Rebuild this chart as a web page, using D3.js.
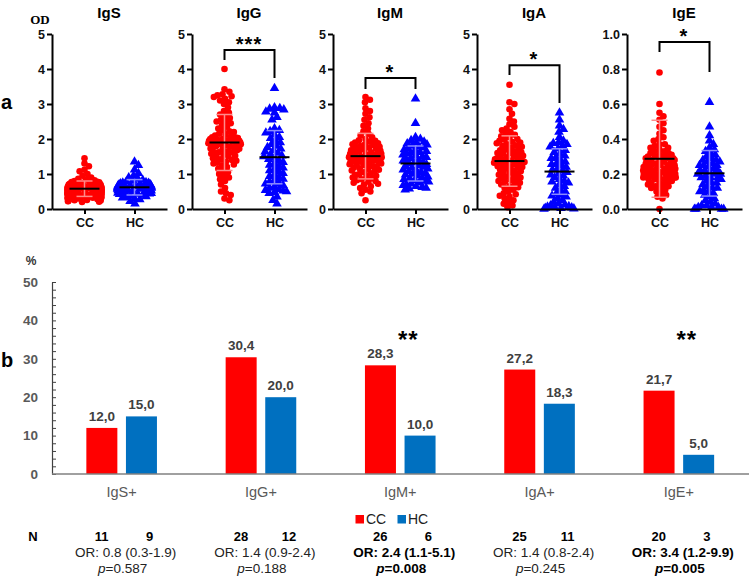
<!DOCTYPE html>
<html><head><meta charset="utf-8">
<script src="https://cdn.jsdelivr.net/npm/d3@7"></script>
<style>body{margin:0;background:#fff}svg{display:block;font-family:"Liberation Sans",Arial,sans-serif}</style>
</head><body><svg id="c" width="749" height="581"></svg>
<script>
// ---------- Panel a data (OD values) ----------
const panels = ["IgS","IgG","IgM","IgA","IgE"];
const groups = ["CC","HC"];
const yTicksA = [0,1,2,3,4,5];
const yTicksE = [0,0.2,0.4,0.6,0.8,1.0];

const igsCC = [1.45,1.3,1.22,1.12,1.08,1.0,0.95,0.9,0.86,0.84,0.82,0.8,0.78,0.77,0.76,0.75,0.74,0.72,0.71,0.7,0.69,0.68,0.67,0.66,0.65,0.65,0.64,0.63,0.62,0.62,0.61,0.6,0.6,0.59,0.58,0.58,0.57,0.56,0.56,0.55,0.55,0.54,0.53,0.53,0.52,0.52,0.51,0.5,0.5,0.49,0.49,0.48,0.48,0.47,0.46,0.46,0.45,0.45,0.44,0.44,0.43,0.42,0.42,0.41,0.4,0.4,0.39,0.38,0.38,0.37,0.36,0.36,0.35,0.34,0.33,0.33,0.32,0.31,0.3,0.3,0.29,0.28,0.27,0.26,0.25,0.24,0.23,0.22,0.21,0.2,0.62,0.58];
const igsHC = [1.35,1.25,1.12,1.02,0.95,0.9,0.86,0.83,0.8,0.78,0.76,0.75,0.74,0.73,0.72,0.71,0.7,0.69,0.68,0.67,0.66,0.66,0.65,0.64,0.64,0.63,0.62,0.62,0.61,0.6,0.6,0.59,0.58,0.58,0.57,0.56,0.55,0.55,0.54,0.53,0.52,0.51,0.5,0.49,0.48,0.47,0.46,0.45,0.44,0.43,0.42,0.4,0.38,0.36,0.34,0.32,0.3,0.27,0.22,0.15];
const iggCC = [4.0,3.42,3.35,3.28,3.25,3.2,3.15,3.1,3.05,3.0,2.9,2.8,2.75,2.7,2.65,2.6,2.55,2.5,2.45,2.4,2.35,2.3,2.25,2.2,2.15,2.1,2.08,2.05,2.03,2.0,2.0,1.98,1.96,1.95,1.93,1.92,1.9,1.9,1.88,1.86,1.85,1.83,1.82,1.8,1.78,1.76,1.75,1.73,1.7,1.68,1.65,1.62,1.6,1.58,1.55,1.52,1.5,1.48,1.45,1.42,1.4,1.38,1.35,1.32,1.3,1.27,1.25,1.2,1.15,1.1,1.05,1.0,0.95,0.9,0.85,0.8,0.7,0.6,0.5,0.45,0.4,0.3,0.25,2.05,1.95,2.12,1.88,1.72,2.22,2.5,3.22,1.62];
const iggHC = [3.45,2.9,2.88,2.86,2.84,2.78,2.75,2.62,2.55,2.3,2.25,2.22,2.18,2.12,2.05,2.02,1.95,1.9,1.85,1.8,1.76,1.72,1.68,1.64,1.6,1.56,1.52,1.5,1.46,1.42,1.38,1.34,1.3,1.26,1.22,1.18,1.14,1.1,1.06,1.02,0.98,0.94,0.9,0.86,0.82,0.78,0.74,0.72,0.68,0.64,0.6,0.56,0.54,0.52,0.5,0.48,0.45,0.35,0.25,0.15];
const igmCC = [3.2,3.12,3.05,2.88,2.8,2.72,2.62,2.55,2.45,2.38,2.3,2.22,2.15,2.1,2.05,2.0,1.96,1.92,1.9,1.88,1.85,1.82,1.8,1.78,1.75,1.72,1.7,1.68,1.66,1.64,1.62,1.6,1.58,1.56,1.55,1.54,1.52,1.5,1.5,1.48,1.46,1.45,1.44,1.42,1.4,1.4,1.38,1.36,1.35,1.34,1.32,1.3,1.3,1.28,1.26,1.25,1.22,1.2,1.18,1.16,1.15,1.12,1.1,1.08,1.05,1.02,1.0,0.98,0.95,0.92,0.9,0.88,0.85,0.82,0.8,0.78,0.75,0.72,0.7,0.65,0.6,0.55,0.5,0.45,0.25,1.6,1.7,1.85,1.48,1.58,1.75,1.95];
const igmHC = [3.15,2.45,2.05,2.0,1.96,1.92,1.9,1.87,1.84,1.8,1.78,1.75,1.72,1.7,1.68,1.65,1.62,1.6,1.58,1.55,1.52,1.5,1.48,1.45,1.42,1.4,1.38,1.35,1.32,1.3,1.28,1.25,1.22,1.2,1.18,1.15,1.12,1.1,1.08,1.05,1.02,1.0,0.98,0.95,0.92,0.9,0.88,0.85,0.82,0.8,0.78,0.75,0.72,0.7,0.68,0.65,0.62,0.6,0.58,0.55];
const igaCC = [3.55,3.05,3.0,2.85,2.72,2.58,2.5,2.42,2.35,2.3,2.25,2.2,2.15,2.12,2.08,2.05,2.0,1.98,1.95,1.92,1.9,1.88,1.85,1.82,1.8,1.78,1.75,1.72,1.7,1.68,1.65,1.62,1.6,1.58,1.55,1.52,1.5,1.48,1.45,1.42,1.4,1.38,1.36,1.34,1.32,1.3,1.28,1.25,1.22,1.2,1.18,1.15,1.12,1.1,1.08,1.05,1.02,1.0,0.98,0.95,0.92,0.9,0.88,0.85,0.82,0.8,0.78,0.75,0.72,0.7,0.65,0.62,0.6,0.55,0.5,0.45,0.42,0.38,0.35,0.3,0.25,0.2,0.15,0.1,0.05,1.4,1.45,1.35,1.5,1.3,1.6,1.2];
const igaHC = [2.75,2.55,2.38,2.28,2.2,2.05,1.95,1.9,1.88,1.85,1.8,1.78,1.72,1.68,1.62,1.58,1.52,1.48,1.45,1.4,1.35,1.3,1.28,1.25,1.2,1.15,1.12,1.1,1.05,1.0,0.98,0.95,0.9,0.85,0.8,0.78,0.75,0.7,0.65,0.6,0.55,0.5,0.45,0.4,0.38,0.35,0.3,0.25,0.2,0.15,0.12,0.1,0.08,0.06,0.05,0.04,0.03,0.02,0.01,0.0];
const igeCC = [0.78,0.6,0.55,0.53,0.51,0.49,0.47,0.45,0.43,0.41,0.39,0.37,0.36,0.35,0.34,0.33,0.32,0.31,0.31,0.3,0.3,0.29,0.29,0.28,0.28,0.27,0.27,0.26,0.26,0.25,0.25,0.25,0.24,0.24,0.24,0.23,0.23,0.23,0.22,0.22,0.22,0.21,0.21,0.21,0.2,0.2,0.2,0.2,0.19,0.19,0.19,0.18,0.18,0.18,0.17,0.17,0.17,0.16,0.16,0.15,0.15,0.14,0.14,0.13,0.13,0.12,0.12,0.11,0.1,0.09,0.08,0.07,0.06,0.0,0.26,0.28,0.3,0.32,0.22,0.24,0.2,0.18,0.27,0.29,0.23,0.25,0.21,0.19,0.33,0.35,0.37,0.4];
const igeHC = [0.61,0.47,0.42,0.39,0.37,0.35,0.34,0.33,0.32,0.31,0.3,0.29,0.28,0.28,0.27,0.26,0.25,0.25,0.24,0.23,0.22,0.22,0.21,0.2,0.2,0.19,0.18,0.18,0.17,0.16,0.15,0.15,0.14,0.13,0.12,0.12,0.11,0.1,0.1,0.09,0.08,0.07,0.06,0.05,0.04,0.03,0.02,0.02,0.01,0.01,0.01,0.0,0.0,0.0,0.0,0.2,0.22,0.25,0.18,0.27];

const meanCC = [0.58,1.9,1.51,1.37,0.287];
const sdCC   = [0.22,0.8,0.65,0.72,0.22];
const meanHC = [0.62,1.48,1.3,1.07,0.204];
const sdHC   = [0.22,0.76,0.5,0.65,0.13];
const sigA = ["","***","*","*","*"];

// ---------- Panel b data (% positive) ----------
const categories = ["IgS+","IgG+","IgM+","IgA+","IgE+"];
const pctCC = [12.0,30.4,28.3,27.2,21.7];
const pctHC = [15.0,20.0,10.0,18.3,5.0];
const nCC = [11,28,26,25,20];
const nHC = [9,12,6,11,3];
const orText = ["OR: 0.8 (0.3-1.9)","OR: 1.4 (0.9-2.4)","OR: 2.4 (1.1-5.1)","OR: 1.4 (0.8-2.4)","OR: 3.4 (1.2-9.9)"];
const pText = ["=0.587","=0.188","=0.008","=0.245","=0.005"];
const sigB = ["","","**","","**"];
const yTicksB = [0,10,20,30,40,50];

// ---------- layout ----------
const svg = d3.select("#c");
const RED = "#ff0000", BLUE = "#0000ff", BARRED = "#ff0000", BARBLUE = "#0070c0";
const ccSets = [igsCC, iggCC, igmCC, igaCC, igeCC];
const hcSets = [igsHC, iggHC, igmHC, igaHC, igeHC];
const axisX = [52,192,333,477,627];
const brTop = [null,4.54,3.74,4.11,0.954];
const brL   = [null,4.26,3.43,3.83,0.897];
const brR   = [null,3.74,3.43,3.03,0.783];

function swarm(vals, ys, cx, r, maxHalf){
  const pts = vals.map(v=>({v, py: ys(v)}));
  const order = pts.slice().sort((a,b)=>a.py-b.py);
  const placed = [];
  const d = 2*r*0.78;
  for(const p of order){
    let best = 0;
    for(let k=0;k<400;k++){
      const off = (k%2?1:-1)*Math.ceil(k/2)*0.5;
      let ok = true;
      for(const q of placed){
        const dy = q.py-p.py;
        if(Math.abs(dy)<d){ const dx=q.dx-off; if(dx*dx+dy*dy<d*d){ok=false;break;} }
      }
      if(ok){best=off;break;}
    }
    p.dx = best; placed.push(p);
  }
  pts.forEach(p=>p.px = cx + maxHalf*Math.tanh(p.dx/maxHalf));
  return pts;
}

svg.append("text").attr("x",1).attr("y",109).attr("font-size",20).attr("font-weight","bold").text("a");
svg.append("text").attr("x",1).attr("y",367).attr("font-size",20).attr("font-weight","bold").text("b");
svg.append("text").attr("x",40).attr("y",24).attr("font-family","'Liberation Serif','Times New Roman',serif")
   .attr("font-size",13).attr("font-weight","bold").attr("text-anchor","middle").text("OD");

panels.forEach((name,i)=>{
  const x0 = axisX[i];
  const isE = name==="IgE";
  const ys = d3.scaleLinear().domain([0,isE?1:5]).range([209,34]);
  const xs = d3.scalePoint().domain(groups).range([x0,x0+115]).padding(0.65);
  const g = svg.append("g");

  g.append("text").attr("x",x0+57).attr("y",18).attr("text-anchor","middle")
    .attr("font-size",15).attr("font-weight","bold").text(name);

  const r = 3.3;
  const cc = swarm(ccSets[i], ys, xs("CC"), r, 17);
  const hc = swarm(hcSets[i], ys, xs("HC"), r, 17);
  g.append("g").selectAll("circle").data(cc).join("circle")
    .attr("cx",d=>d.px).attr("cy",d=>d.py).attr("r",r).attr("fill",RED);
  const tri = d3.symbol().type(d3.symbolTriangle).size(40);
  g.append("g").selectAll("path").data(hc).join("path")
    .attr("transform",d=>`translate(${d.px},${d.py})`).attr("d",tri).attr("fill",BLUE);

  [["CC",meanCC[i],sdCC[i],"#ff8a8a"],["HC",meanHC[i],sdHC[i],"#8a8aff"]].forEach(([grp,m,s,col])=>{
    const cx = xs(grp);
    const lo = Math.max(0,m-s), hi = m+s;
    g.append("line").attr("x1",cx).attr("x2",cx).attr("y1",ys(lo)).attr("y2",ys(hi)).attr("stroke",col).attr("stroke-width",1.5);
    [lo,hi].forEach(v=>g.append("line").attr("x1",cx-8).attr("x2",cx+8).attr("y1",ys(v)).attr("y2",ys(v)).attr("stroke",col).attr("stroke-width",1.5));
    g.append("line").attr("x1",cx-15).attr("x2",cx+15).attr("y1",ys(m)).attr("y2",ys(m)).attr("stroke","#000").attr("stroke-width",2);
  });

  const ay = d3.axisLeft(ys).tickValues(isE?yTicksE:yTicksA).tickSize(5).tickSizeOuter(0).tickPadding(2)
    .tickFormat(isE?d3.format(".1f"):d3.format("d"));
  const gy = g.append("g").attr("transform",`translate(${x0},0)`).call(ay);
  const ax = d3.axisBottom(xs).tickSize(5).tickSizeOuter(0).tickPadding(4);
  const gx = g.append("g").attr("transform","translate(0,209)").call(ax);
  [gy,gx].forEach(a=>{
    a.select(".domain").attr("stroke","#000").attr("stroke-width",2);
    a.selectAll(".tick line").attr("stroke","#000").attr("stroke-width",2);
    a.selectAll(".tick text").attr("fill","#111").attr("font-size",12.5).attr("font-weight","bold")
      .attr("font-family","'Liberation Sans',Arial,sans-serif");
  });

  if(sigA[i]){
    const xl = xs("CC"), xr = xs("HC");
    g.append("path").attr("d",`M${xl},${ys(brL[i])}V${ys(brTop[i])}H${xr}V${ys(brR[i])}`)
      .attr("fill","none").attr("stroke","#000").attr("stroke-width",2);
    g.append("text").attr("x",x0+57).attr("y",ys(brTop[i])+1).attr("text-anchor","middle")
      .attr("font-size",20).attr("font-weight","bold").attr("letter-spacing",1).text(sigA[i]);
  }
});

// ---------- Panel b ----------
const yb = d3.scaleLinear().domain([0,50]).range([474,282]);
const xb = d3.scaleBand().domain(categories).range([52,748.5]);
const gb = svg.append("g");

categories.forEach((c,i)=>{
  const cx = xb(c)+xb.bandwidth()/2;
  const xi = d3.scaleBand().domain(groups).range([cx-35.3,cx+35.3]).paddingInner(0.217);
  [["CC",pctCC[i],BARRED],["HC",pctHC[i],BARBLUE]].forEach(([grp,v,col])=>{
    gb.append("rect").attr("x",xi(grp)).attr("width",xi.bandwidth()).attr("y",yb(v)).attr("height",yb(0)-yb(v)).attr("fill",col);
    gb.append("text").attr("x",xi(grp)+xi.bandwidth()/2).attr("y",yb(v)-7).attr("text-anchor","middle")
      .attr("font-size",13.5).attr("font-weight","bold").attr("fill","#404040").text(d3.format(".1f")(v).replace(".",","));
  });
  if(sigB[i]) gb.append("text").attr("x",cx+8).attr("y",348).attr("text-anchor","middle")
      .attr("font-size",24).attr("font-weight","bold").attr("letter-spacing",1).text(sigB[i]);
  gb.append("text").attr("x",cx).attr("y",497).attr("text-anchor","middle").attr("font-size",14.5).attr("fill","#595959").text(c);
  gb.append("text").attr("x",cx-20).attr("y",541).attr("text-anchor","middle").attr("font-size",13).attr("font-weight","bold").text(nCC[i]);
  gb.append("text").attr("x",cx+28).attr("y",541).attr("text-anchor","middle").attr("font-size",13).attr("font-weight","bold").text(nHC[i]);
  const bold = sigB[i]!=="";
  const ot = gb.append("text").attr("x",cx+4).attr("y",557).attr("text-anchor","middle").attr("font-size",13.5)
    .attr("fill",bold?"#000":"#222").attr("font-weight",bold?"bold":"normal").text(orText[i]);
  const pt = gb.append("text").attr("x",cx+1).attr("y",573).attr("text-anchor","middle").attr("font-size",13.5)
    .attr("fill",bold?"#000":"#222").attr("font-weight",bold?"bold":"normal");
  pt.append("tspan").attr("font-style","italic").text("p");
  pt.append("tspan").text(pText[i]);
});

const ayb = d3.axisLeft(yb).tickValues(d3.range(0,51,2)).tickSize(-4).tickSizeOuter(0).tickPadding(14)
  .tickFormat(d=>yTicksB.includes(d)?d:"");
const gyb = gb.append("g").attr("transform","translate(52,0)").call(ayb);
gyb.select(".domain").attr("stroke","#404040").attr("stroke-width",1.2);
gyb.selectAll(".tick line").attr("stroke","#404040");
gyb.selectAll(".tick text").attr("font-size",13.5).attr("font-weight","bold").attr("fill","#595959")
  .attr("font-family","'Liberation Sans',Arial,sans-serif");
gb.append("line").attr("x1",52).attr("x2",749).attr("y1",yb(0)).attr("y2",yb(0)).attr("stroke","#808080").attr("stroke-width",1.5);
gb.append("text").attr("x",31).attr("y",265).attr("text-anchor","middle").attr("font-size",12).attr("font-weight","bold").attr("fill","#333").text("%");

const lg = svg.append("g");
[["CC",BARRED,355.5],["HC",BARBLUE,397.5]].forEach(([t,col,x])=>{
  lg.append("rect").attr("x",x).attr("y",515).attr("width",8.5).attr("height",8.5).attr("fill",col);
  lg.append("text").attr("x",x+10.5).attr("y",524).attr("font-size",14).attr("fill","#222").text(t);
});
svg.append("text").attr("x",33).attr("y",541).attr("text-anchor","middle").attr("font-size",13).attr("font-weight","bold").text("N");
</script></body></html>
